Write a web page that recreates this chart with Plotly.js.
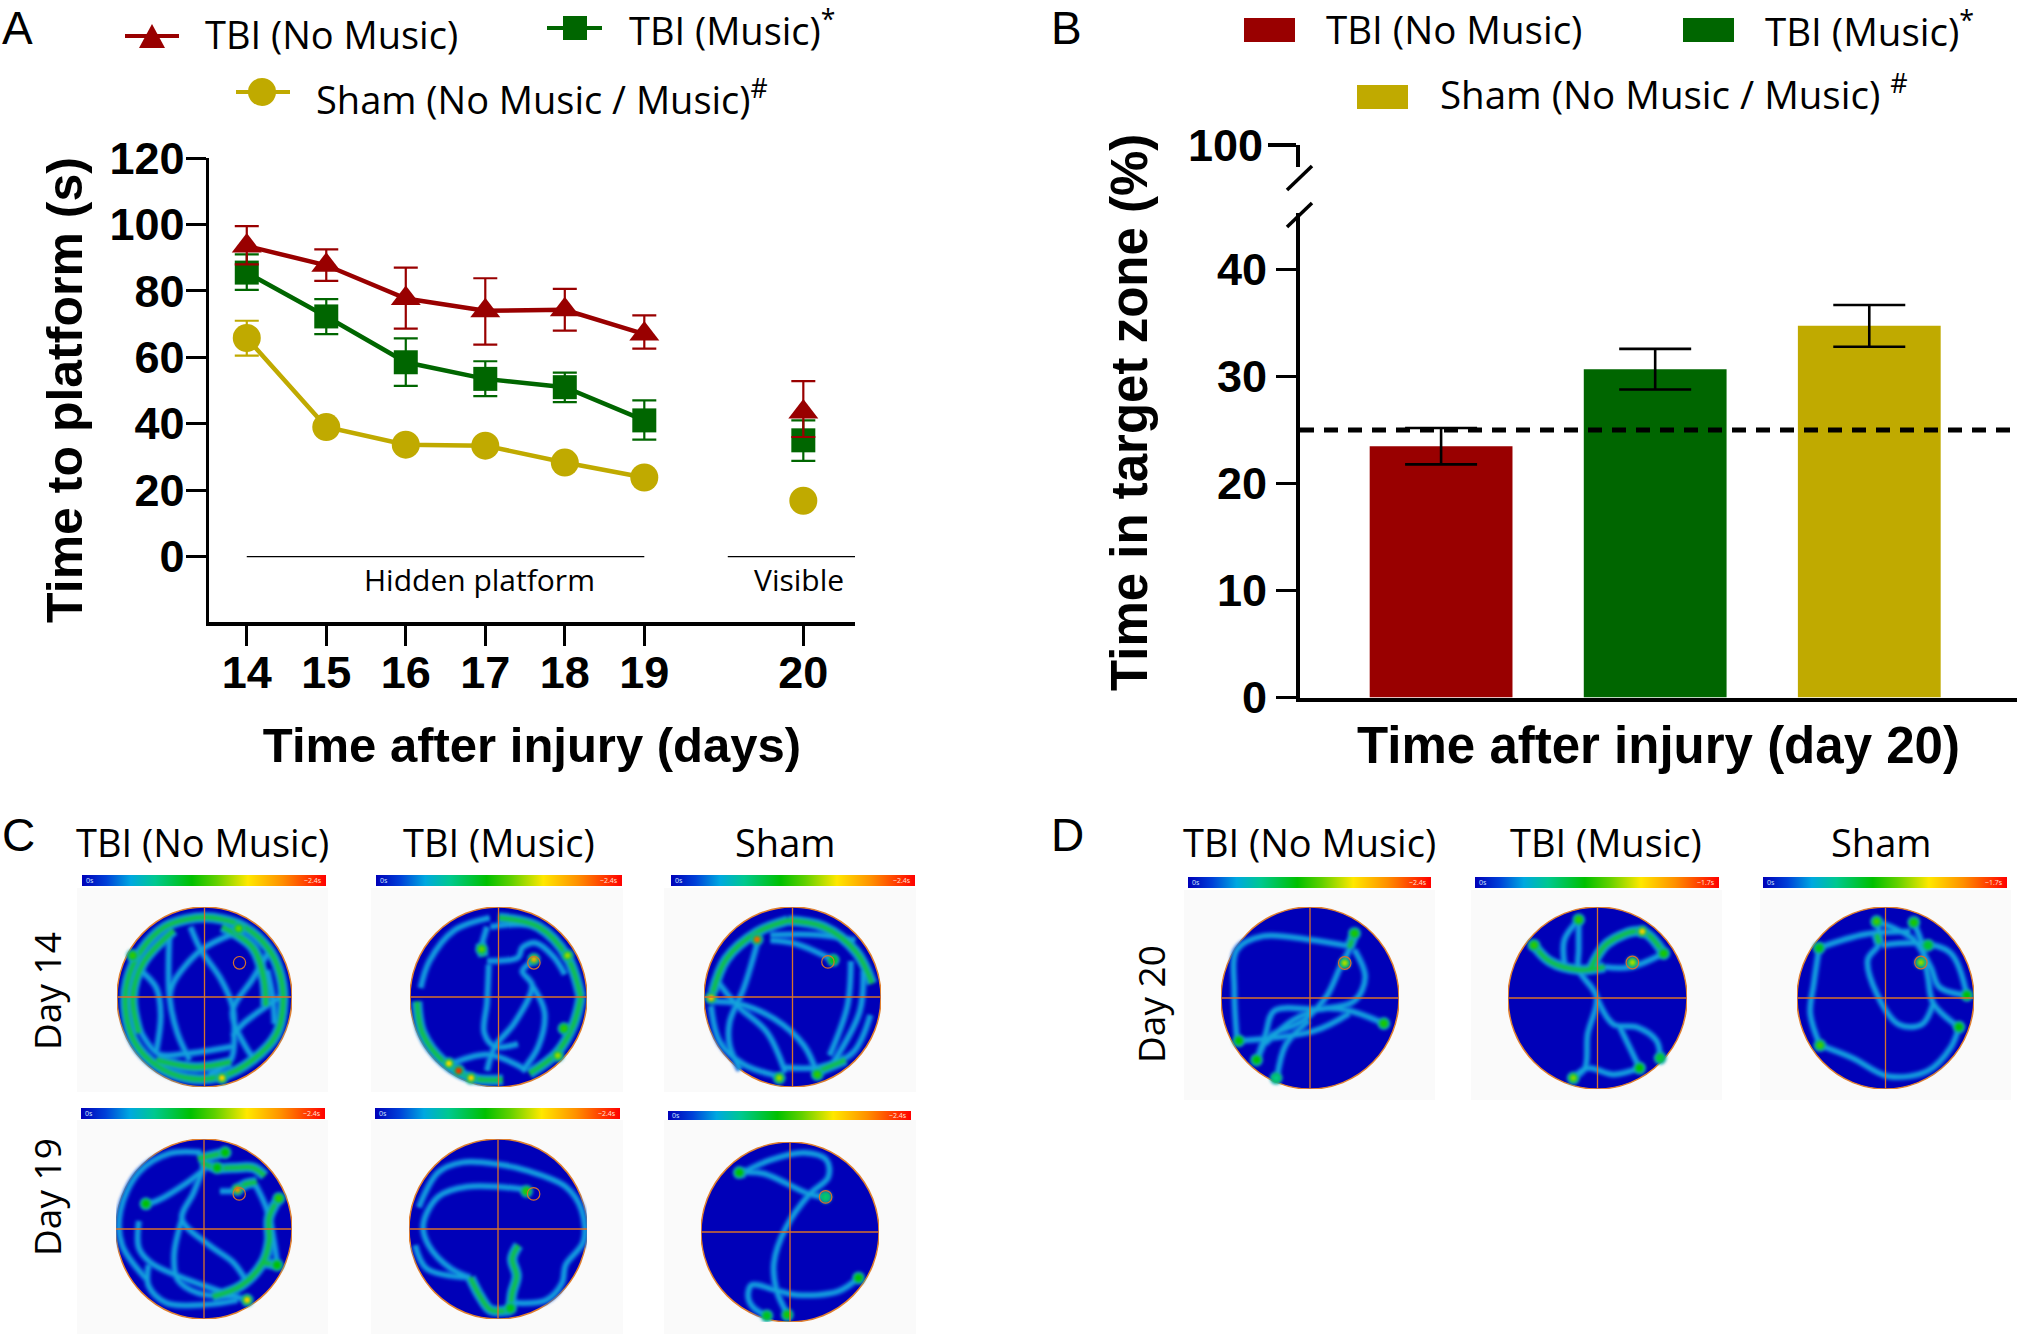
<!DOCTYPE html>
<html>
<head>
<meta charset="utf-8">
<title>Music therapy after TBI - water maze</title>
<script src="https://cdn.plot.ly/plotly-3.0.1.min.js"></script>
<style>
  html, body { margin: 0; padding: 0; background: #fff; }
  #chart { width: 2018px; height: 1336px; }
</style>
</head>
<body>
<div id="chart"></div>
<script>
// Panel A: time to platform. Position 20 stays empty so the line breaks before the visible day
const dayPositions = [14, 15, 16, 17, 18, 19, 20, 21];
const dayTickPositions = [14, 15, 16, 17, 18, 19, 21];
const dayTickLabels = ['14', '15', '16', '17', '18', '19', '20'];
const timeTicks = [0, 20, 40, 60, 80, 100, 120];

const tbiNoMusicTime = [93.5, 87.7, 77.7, 74, 74.3, 67, null, 43.5];
const tbiNoMusicUp = [6, 4.8, 9.3, 9.8, 6.3, 5.6, null, 9.3];
const tbiNoMusicDown = [5.5, 4.7, 9.1, 10.2, 6.3, 4.4, null, 7.5];

const tbiMusicTime = [85.5, 72.3, 58.5, 53.5, 51, 41, null, 35];
const tbiMusicUp = [5.5, 5.2, 7.2, 5.3, 4.4, 6, null, 6];
const tbiMusicDown = [5.2, 5.3, 7.1, 5.2, 4.5, 5.8, null, 6.2];

const shamTime = [65.8, 39, 33.7, 33.4, 28.3, 23.8, null, 16.8];
const shamUp = [5.2, 0, 0, 0, 0, 0, null, 0];
const shamDown = [5.3, 0, 0, 0, 0, 0, null, 0];

const hiddenSpan = [14, 19];
const visibleSpan = [20.05, 21.65];

// Panel B: time in target zone on day 20
const groups = ['TBI (No Music)', 'TBI (Music)', 'Sham (No Music / Music)'];
const zoneTime = [23.5, 30.7, 34.75];
const zoneUp = [1.7, 1.9, 1.95];
const zoneDown = [1.7, 1.9, 1.95];
const chanceLevel = 25;
const zoneTicks = [0, 10, 20, 30, 40];
const zoneUpperTicks = [100];

const RED = '#990000';
const GREEN = '#006600';
const GOLD = '#c0aa00';

// Panels C and D: swim tracks, [x, y, x, y, ...] with the arena as -1..1
const cool14NoMusic = [
  [-0.4, 0.7, -0.4, 0, -0.31, -0.4, -0.17, -0.7],
  [-0.16, 0.78, -0.04, 0.52, 0.18, 0.21, 0.32, -0.1, 0.34, -0.4, 0.3, -0.7, 0.05, -0.86],
  [0.32, 0.7, -0.04, 0.52, -0.35, 0.17, -0.4, 0],
  [-0.76, 0.32, -0.55, 0.1, -0.5, -0.2, -0.55, -0.6],
  [0.72, 0.48, 0.55, 0.2, 0.32, -0.17, 0.5, -0.6, 0.6, -0.72],
  [0.9, 0.02, 0.45, -0.29, 0.32, -0.44],
  [-0.8, -0.25, -0.53, -0.63, -0.22, -0.63, 0.32, -0.55],
  [0.72, 0.3, 0.78, 0, 0.8, -0.3]
];
const warm14NoMusic = [
  [-0.1, 0.88, -0.45, 0.78, -0.72, 0.52, -0.88, 0.18, -0.9, -0.15, -0.8, -0.5, -0.55, -0.76, -0.2, -0.9, 0.2, -0.88, 0.55, -0.7, 0.82, -0.42, 0.9, -0.05, 0.85, 0.3, 0.72, 0.55, 0.45, 0.78, 0.1, 0.88, -0.1, 0.88],
  [-0.35, 0.74, -0.7, 0.38, -0.82, 0, -0.75, -0.4],
  [0.2, 0.78, 0.55, 0.55, 0.68, 0.2, 0.7, -0.1],
  [-0.55, -0.7, -0.1, -0.78, 0.3, -0.72]
];
const spots14NoMusic = [0.2, -0.9, 0.72, 0.39, 0.76, 0.55, -0.82, 0.46, 0.5];

const cool14Music = [
  [-0.13, 0.4, 0.22, 0.44, 0.27, 0.55, 0.42, 0.6, 0.62, 0.45, 0.75, 0.25],
  [-0.11, 0.36, -0.13, -0.06, -0.16, -0.4, -0.04, -0.55, 0.22, -0.52],
  [0.4, 0.4, 0.27, 0.29, 0.38, 0.13, 0.18, -0.29, -0.04, -0.55, -0.13, -0.82],
  [0.38, 0.13, 0.52, -0.17, 0.45, -0.55, 0.27, -0.82],
  [-0.13, 0.78, -0.2, 0.55],
  [-0.09, 0.78, 0.45, 0.78, 0.76, 0.5],
  [-0.58, -0.76, -0.13, -0.64, 0.22, -0.76, 0.31, -0.82],
  [-0.1, 0.88, -0.5, 0.74, -0.78, 0.4, -0.88, 0.1]
];
const warm14Music = [
  [0, 0.88, 0.45, 0.78, 0.78, 0.44, 0.93, 0],
  [-0.92, -0.05, -0.86, -0.4, -0.62, -0.72, -0.3, -0.9, 0.05, -0.92],
  [0.35, -0.85, 0.66, -0.62, 0.85, -0.3, 0.93, 0],
  [-0.2, 0.6, -0.17, 0.45]
];
const spots14Music = [0.4, 0.42, 0.78, -0.45, -0.82, 0.95, -0.31, -0.9, 0.72, -0.56, -0.74, 0.7, 0.74, -0.35, 0.5, 0.67, -0.65, 0.6, 0.78, 0.46, 0.6, -0.19, 0.53, 0.55];

const cool14Sham = [
  [-0.25, 0.63, 0.04, 0.59, 0.46, 0.41],
  [-0.25, 0.69, 0.3, 0.69, 0.71, 0.63],
  [-0.4, 0.59, -0.55, 0.1, -0.71, -0.28, -0.71, -0.54, -0.59, -0.81],
  [-0.88, 0.22, -0.63, -0.09, -0.29, -0.39, -0.08, -0.84],
  [-0.92, -0.05, -0.63, -0.07, -0.21, -0.24, 0.13, -0.54, 0.28, -0.86],
  [0.8, 0.29, 0.76, -0.16, 0.46, -0.73],
  [0.66, 0.4, 0.62, -0.1, 0.42, -0.65],
  [-0.92, -0.1, -0.82, -0.5, -0.55, -0.75, -0.15, -0.88],
  [-0.1, -0.78, 0.3, -0.78, 0.68, -0.62, 0.88, -0.2]
];
const warm14Sham = [
  [-0.05, 0.85, 0.35, 0.78, 0.72, 0.5, 0.9, 0.15],
  [-0.05, 0.85, -0.4, 0.72, -0.75, 0.42, -0.9, 0.05],
  [0.3, -0.82, 0.6, -0.7]
];
const spots14Sham = [-0.4, 0.64, 0.88, -0.92, -0.01, 0.75, -0.15, -0.9, 0.6, 0.28, -0.86, 0.5, 0.46, 0.41, 0.42];

const cool19NoMusic = [
  [-0.03, 0.85, -0.39, 0.84, -0.74, 0.63, -0.95, 0.2, -0.93, -0.18, -0.65, -0.56],
  [-0.7, 0.26, -0.52, 0.32, -0.2, 0.51, 0, 0.66],
  [0.02, 0.74, -0.12, 0.4, -0.25, 0.11, 0.06, -0.18, 0.33, -0.37, 0.47, -0.56],
  [-0.25, 0.11, -0.34, -0.29, -0.3, -0.56, -0.07, -0.71, 0.38, -0.75],
  [-0.74, 0.09, -0.74, -0.21, -0.61, -0.37, -0.3, -0.52, 0.24, -0.71, 0.49, -0.79],
  [-0.63, -0.4, -0.63, -0.63, -0.43, -0.82, 0.02, -0.84, 0.38, -0.79],
  [0.18, 0.42, 0.38, 0.42],
  [0.58, 0.5, 0.72, 0.2, 0.82, -0.3, 0.83, -0.4]
];
const warm19NoMusic = [
  [-0.07, 0.78, 0.24, 0.85],
  [-0.03, 0.74, 0.13, 0.68, 0.33, 0.68, 0.56, 0.68, 0.69, 0.59],
  [0.38, 0.44, 0.48, 0.5, 0.6, 0.52],
  [0.85, 0.34, 0.74, 0.13, 0.74, -0.14, 0.67, -0.37, 0.42, -0.63, 0.1, -0.75],
  [0.65, -0.37, 0.83, -0.4]
];
const spots19NoMusic = [0.49, -0.79, 0.72, 0.38, 0.44, 0.82, 0.85, 0.34, 0.5, 0.24, 0.85, 0.45, 0.15, 0.68, 0.45, -0.66, 0.28, 0.45, 0.83, -0.4, 0.45];

const cool19Music = [
  [0.32, 0.44, -0.35, 0.47, -0.67, 0.36, -0.84, 0.05, -0.78, -0.18, -0.53, -0.44, -0.31, -0.54],
  [-0.89, 0.24, -0.67, 0.63, -0.4, 0.74, 0, 0.72, 0.32, 0.65, 0.76, 0.47, 0.94, 0.21, 0.96, -0.14, 0.76, -0.4, 0.72, -0.6, 0.54, -0.79, 0.14, -0.82],
  [-0.93, -0.18, -0.8, -0.44, -0.31, -0.54]
];
const warm19Music = [
  [-0.31, -0.54, -0.2, -0.75, -0.08, -0.9, 0.14, -0.9],
  [0.23, -0.18, 0.16, -0.33, 0.21, -0.52, 0.16, -0.71, 0.14, -0.9]
];
const spots19Music = [0.32, 0.42, 0.5, 0.14, -0.88, 0.42];

const cool19Sham = [
  [-0.57, 0.66, -0.3, 0.65, 0.22, 0.42, 0.4, 0.39],
  [-0.51, 0.67, -0.22, 0.8, 0.16, 0.88, 0.41, 0.8, 0.43, 0.61, 0.22, 0.42, -0.05, 0.04, -0.18, -0.34, -0.15, -0.65, -0.03, -0.91],
  [0.77, -0.51, 0.54, -0.66, 0.08, -0.7, -0.15, -0.65, -0.43, -0.59, -0.47, -0.72, -0.41, -0.84, -0.26, -0.93]
];
const warm19Sham = [
  [-0.6, 0.66, -0.5, 0.66]
];
const spots19Sham = [-0.57, 0.66, 0.45, 0.77, -0.51, 0.45, -0.03, -0.92, 0.48, -0.26, -0.93, 0.42, 0.4, 0.39, 0.32];

const cool20NoMusic = [
  [0.5, 0.71, 0.44, 0.53, 0.34, 0.34, 0.18, 0.01, -0.08, -0.25, -0.46, -0.43, -0.59, -0.69],
  [0.44, 0.57, 0, 0.64, -0.53, 0.68, -0.82, 0.53, -0.85, 0.08, -0.82, -0.47],
  [0.5, 0.53, 0.62, 0.23, 0.5, -0.03, 0.12, -0.12, -0.4, -0.14, -0.5, -0.4, -0.59, -0.66],
  [0.83, -0.28, 0.44, -0.14, 0.12, -0.12, -0.2, -0.25, -0.5, -0.5],
  [-0.79, -0.47, 0.05, -0.36, 0.44, -0.17],
  [-0.01, -0.25, -0.27, -0.51, -0.37, -0.88]
];
const warm20NoMusic = [
  [0.5, 0.71, 0.44, 0.55]
];
const spots20NoMusic = [0.5, 0.71, 0.48, 0.83, -0.28, 0.48, -0.8, -0.47, 0.45, -0.6, -0.68, 0.45, -0.38, -0.88, 0.3, 0.39, 0.385, 0.62];

const cool20Music = [
  [-0.21, 0.86, -0.37, 0.64, -0.37, 0.38],
  [-0.21, 0.86, -0.21, 0.53, -0.21, 0.31, -0.01, 0.01, -0.11, -0.4, -0.14, -0.77, -0.27, -0.88],
  [-0.01, 0.01, 0.18, -0.29, 0.44, -0.32, 0.66, -0.47, 0.7, -0.66],
  [0.25, -0.32, 0.47, -0.77],
  [-0.27, -0.88, -0.11, -0.77, 0.18, -0.84, 0.47, -0.77],
  [0.08, 0.34, 0.37, 0.34, 0.74, 0.49]
];
const warm20Music = [
  [-0.71, 0.58, -0.53, 0.4, -0.21, 0.31, 0.08, 0.34],
  [-0.08, 0.31, 0.11, 0.6, 0.5, 0.73, 0.74, 0.49]
];
const spots20Music = [-0.21, 0.86, 0.5, -0.71, 0.58, 0.5, 0.5, 0.73, 0.72, 0.74, 0.49, 0.48, 0.47, -0.77, 0.45, -0.27, -0.88, 0.58, 0.7, -0.66, 0.38, 0.39, 0.39, 0.62];

const cool20Sham = [
  [-0.75, 0.55, -0.23, 0.7, 0.28, 0.73],
  [-0.74, -0.52, -0.85, -0.17, -0.81, 0.16, -0.75, 0.55],
  [-0.74, -0.52, -0.37, -0.66, 0.03, -0.86, 0.48, -0.8, 0.74, -0.54, 0.83, -0.32],
  [0.83, -0.32, 0.54, -0.06, 0.48, 0.23, 0.41, 0.6, 0.32, 0.83],
  [-0.1, 0.84, -0.07, 0.6, -0.2, 0.42, -0.1, 0.05, 0.15, -0.29, 0.41, -0.29, 0.54, -0.06],
  [-0.1, 0.84, 0.09, 0.77, 0.32, 0.64, 0.51, 0.34, 0.61, 0.12, 0.92, 0.03],
  [-0.04, 0.58, 0.41, 0.6, 0.74, 0.49, 0.92, 0.03]
];
const warm20Sham = [
  [-0.1, 0.7, -0.07, 0.6]
];
const spots20Sham = [-0.1, 0.84, 0.52, 0.32, 0.83, 0.48, -0.74, -0.52, 0.52, 0.83, -0.32, 0.45, 0.92, 0.03, 0.45, -0.75, 0.55, 0.42, 0.48, 0.58, 0.4, 0.4, 0.39, 0.6];

const heatScale = [
  [0, '#0000b8'], [0.1, '#0040d8'], [0.2, '#00a8e0'], [0.3, '#00c890'], [0.45, '#00c000'],
  [0.55, '#60d000'], [0.68, '#ffe800'], [0.82, '#ff9000'], [1, '#ff0000']
];

// Page layout in pixels of the 2018x1336 figure
const W = 2018;
const H = 1336;
const X = px => px / W;
const Y = py => 1 - py / H;

// box = gray card, disc = arena, bar = heat scale strip, all [x0, x1, y0, y1]
const heatPanels = [
  { cool: cool14NoMusic, warm: warm14NoMusic, spots: spots14NoMusic, box: [77, 328, 888, 1092], disc: [117, 292, 907, 1087], bar: [82, 326, 875, 886], target: [0.4, 0.38], maxLabel: '~2.4s' },
  { cool: cool14Music, warm: warm14Music, spots: spots14Music, box: [371, 623, 888, 1092], disc: [410, 587, 907, 1087], bar: [376, 622, 875, 886], target: [0.4, 0.38], maxLabel: '~2.4s' },
  { cool: cool14Sham, warm: warm14Sham, spots: spots14Sham, box: [664, 916, 888, 1092], disc: [704, 881, 907, 1087], bar: [671, 915, 875, 886], target: [0.4, 0.39], maxLabel: '~2.4s' },
  { cool: cool19NoMusic, warm: warm19NoMusic, spots: spots19NoMusic, box: [77, 328, 1120, 1334], disc: [116, 292, 1139, 1319], bar: [81, 325, 1108, 1119], target: [0.4, 0.39], maxLabel: '~2.4s' },
  { cool: cool19Music, warm: warm19Music, spots: spots19Music, box: [371, 623, 1120, 1334], disc: [409, 587, 1139, 1319], bar: [375, 620, 1108, 1119], target: [0.4, 0.39], maxLabel: '~2.4s' },
  { cool: cool19Sham, warm: warm19Sham, spots: spots19Sham, box: [664, 916, 1120, 1334], disc: [701, 879, 1142, 1322], bar: [668, 911, 1111, 1120], target: [0.4, 0.39], maxLabel: '~2.4s' },
  { cool: cool20NoMusic, warm: warm20NoMusic, spots: spots20NoMusic, box: [1184, 1435, 890, 1100], disc: [1221, 1399, 907, 1089], bar: [1188, 1431, 877, 888], target: [0.39, 0.385], maxLabel: '~2.4s' },
  { cool: cool20Music, warm: warm20Music, spots: spots20Music, box: [1471, 1722, 890, 1100], disc: [1508, 1687, 907, 1089], bar: [1475, 1719, 877, 888], target: [0.39, 0.39], maxLabel: '~1.7s' },
  { cool: cool20Sham, warm: warm20Sham, spots: spots20Sham, box: [1760, 2011, 890, 1100], disc: [1797, 1974, 907, 1089], bar: [1763, 2007, 877, 888], target: [0.4, 0.39], maxLabel: '~1.7s' }
];

const TICK_FONT = { family: 'Liberation Sans', size: 45, color: '#000', weight: 700 };
const titleFont = size => ({ family: 'Liberation Sans', size: size, color: '#000', weight: 700 });
const LABEL_FAMILY = 'Open Sans';

const traces = [];
const annotations = [];
const shapes = [];

function note(text, px, py, size, extra) {
  annotations.push(Object.assign({
    text: text, xref: 'paper', yref: 'paper', x: X(px), y: Y(py), showarrow: false,
    xanchor: 'left', yanchor: 'middle', font: { family: LABEL_FAMILY, size: size, color: '#000' }
  }, extra || {}));
}

function linePaper(x0, y0, x1, y1, color, width) {
  shapes.push({ type: 'line', xref: 'paper', yref: 'paper', x0: X(x0), y0: Y(y0), x1: X(x1), y1: Y(y1), line: { color: color, width: width } });
}

function seriesTrace(name, values, up, down, color, symbol, size) {
  return {
    type: 'scatter', mode: 'lines+markers', name: name, x: dayPositions, y: values, xaxis: 'x', yaxis: 'y',
    connectgaps: false, showlegend: false,
    line: { color: color, width: 4.5 },
    marker: { color: color, symbol: symbol, size: size },
    error_y: { type: 'data', symmetric: false, array: up, arrayminus: down, color: color, thickness: 2.2, width: 12 }
  };
}

traces.push({ type: 'scatter', mode: 'lines', x: hiddenSpan, y: [0, 0], xaxis: 'x', yaxis: 'y', line: { color: '#000', width: 1.2 }, showlegend: false, cliponaxis: false });
traces.push({ type: 'scatter', mode: 'lines', x: visibleSpan, y: [0, 0], xaxis: 'x', yaxis: 'y', line: { color: '#000', width: 1.2 }, showlegend: false, cliponaxis: false });
traces.push(seriesTrace('Sham (No Music / Music)', shamTime, shamUp, shamDown, GOLD, 'circle', 28));
traces.push(seriesTrace('TBI (Music)', tbiMusicTime, tbiMusicUp, tbiMusicDown, GREEN, 'square', 24));
traces.push(seriesTrace('TBI (No Music)', tbiNoMusicTime, tbiNoMusicUp, tbiNoMusicDown, RED, 'triangle-up', 26));

traces.push({
  type: 'bar', x: groups, y: zoneTime, xaxis: 'x2', yaxis: 'y2', showlegend: false,
  marker: { color: [RED, GREEN, GOLD] }, width: 0.667,
  error_y: { type: 'data', symmetric: false, array: zoneUp, arrayminus: zoneDown, color: '#000', thickness: 2.6, width: 36 }
});
// Empty trace so the upper piece of the broken axis gets drawn
traces.push({ type: 'scatter', mode: 'none', x: [groups[0]], y: zoneUpperTicks, xaxis: 'x2', yaxis: 'y3', showlegend: false, hoverinfo: 'skip' });

const layout = {
  width: W, height: H, showlegend: false,
  paper_bgcolor: '#fff', plot_bgcolor: 'rgba(0,0,0,0)',
  margin: { l: 0, r: 0, t: 0, b: 0, autoexpand: false },
  xaxis: {
    domain: [X(209), X(855)], range: [13.525, 21.65], anchor: 'y', showgrid: false, zeroline: false,
    showline: true, linecolor: '#000', linewidth: 3.5, ticks: 'outside', ticklen: 20, tickwidth: 3, tickcolor: '#000',
    tickmode: 'array', tickvals: dayTickPositions, ticktext: dayTickLabels, tickfont: TICK_FONT, ticklabelstandoff: -12,
    title: { text: 'Time after injury (days)', font: titleFont(49), standoff: 32 }
  },
  yaxis: {
    domain: [Y(622), Y(158)], range: [-19.7, 120], anchor: 'x', showgrid: false, zeroline: false,
    showline: true, linecolor: '#000', linewidth: 3.5, ticks: 'outside', ticklen: 20, tickwidth: 3, tickcolor: '#000',
    tickmode: 'array', tickvals: timeTicks, tickfont: TICK_FONT, ticklabelstandoff: -8,
    title: { text: 'Time to platform (s)', font: titleFont(50), standoff: 12 }
  },
  xaxis2: {
    domain: [X(1300), X(2017)], range: [-0.659, 2.69], anchor: 'y2', type: 'category', showgrid: false, zeroline: false,
    showline: true, linecolor: '#000', linewidth: 4, ticks: '', showticklabels: false,
    title: { text: 'Time after injury (day 20)', font: titleFont(51), standoff: 28 }
  },
  yaxis2: {
    domain: [Y(697.5), Y(213)], range: [0, 45.3], anchor: 'x2', showgrid: false, zeroline: false,
    showline: true, linecolor: '#000', linewidth: 4, ticks: 'outside', ticklen: 20, tickwidth: 3.5, tickcolor: '#000',
    tickmode: 'array', tickvals: zoneTicks, tickfont: TICK_FONT
  },
  yaxis3: {
    domain: [Y(167), Y(145)], range: [95, 100], anchor: 'x2', showgrid: false, zeroline: false,
    showline: true, linecolor: '#000', linewidth: 4, ticks: 'outside', ticklen: 28, tickwidth: 3.5, tickcolor: '#000',
    tickmode: 'array', tickvals: zoneUpperTicks, tickfont: TICK_FONT, ticklabelstandoff: -4
  }
};

// Chance level of the target zone
shapes.push({ type: 'line', xref: 'x2 domain', yref: 'y2', x0: 0, x1: 1, y0: chanceLevel, y1: chanceLevel, layer: 'above', line: { color: '#000', width: 5, dash: '14px,10px' } });
// Axis break marks on panel B
linePaper(1312, 166, 1287, 190, '#000', 3.5);
linePaper(1312, 203, 1287, 227, '#000', 3.5);

function flatten(paths) {
  const xs = [];
  const ys = [];
  paths.forEach(p => {
    for (let i = 0; i < p.length; i += 2) {
      xs.push(p[i]);
      ys.push(p[i + 1]);
    }
    xs.push(null);
    ys.push(null);
  });
  return { x: xs, y: ys };
}

function trackLayer(xa, ya, pts, color, width) {
  traces.push({
    type: 'scatter', mode: 'lines', x: pts.x, y: pts.y, xaxis: xa, yaxis: ya, showlegend: false, hoverinfo: 'skip',
    connectgaps: false, line: { color: color, width: width, shape: 'spline', smoothing: 1 }
  });
}

heatPanels.forEach((p, i) => {
  const n = i + 3;
  const xa = 'x' + n;
  const ya = 'y' + (n + 1);
  layout['xaxis' + n] = { domain: [X(p.disc[0]), X(p.disc[1])], range: [-1, 1], anchor: ya, visible: false, fixedrange: true };
  layout['yaxis' + (n + 1)] = { domain: [Y(p.disc[3]), Y(p.disc[2])], range: [-1, 1], anchor: xa, visible: false, fixedrange: true };

  shapes.push({ type: 'rect', layer: 'below', xref: 'paper', yref: 'paper', x0: X(p.box[0]), x1: X(p.box[1]), y0: Y(p.box[3]), y1: Y(p.box[2]), fillcolor: '#fafafa', line: { width: 0 } });
  shapes.push({ type: 'circle', layer: 'below', xref: xa, yref: ya, x0: -1, x1: 1, y0: -1, y1: 1, fillcolor: '#0000b8', line: { color: '#e08030', width: 1.5 } });
  shapes.push({ type: 'line', layer: 'above', xref: xa, yref: ya, x0: -1, x1: 1, y0: 0, y1: 0, line: { color: '#d8702a', width: 1.3 } });
  shapes.push({ type: 'line', layer: 'above', xref: xa, yref: ya, x0: 0, x1: 0, y0: -1, y1: 1, line: { color: '#d8702a', width: 1.3 } });
  shapes.push({
    type: 'circle', layer: 'above', xref: xa, yref: ya, line: { color: '#d8702a', width: 1.2 },
    x0: p.target[0] - 0.07, x1: p.target[0] + 0.07, y0: p.target[1] - 0.07, y1: p.target[1] + 0.07
  });

  // Stacked widths, blurred after the plot is drawn, stand in for the original heat map
  const cool = flatten(p.cool);
  const warm = flatten(p.warm);
  trackLayer(xa, ya, cool, '#0a56da', 7.5);
  trackLayer(xa, ya, warm, '#0c80dc', 11);
  trackLayer(xa, ya, cool, '#14a4dc', 3.5);
  trackLayer(xa, ya, warm, '#10aeb0', 7);
  trackLayer(xa, ya, warm, '#10c040', 3.5);

  const sx = [];
  const sy = [];
  const sv = [];
  for (let k = 0; k < p.spots.length; k += 3) {
    sx.push(p.spots[k]);
    sy.push(p.spots[k + 1]);
    sv.push(p.spots[k + 2]);
  }
  traces.push({ type: 'scatter', mode: 'markers', x: sx, y: sy, xaxis: xa, yaxis: ya, showlegend: false, hoverinfo: 'skip', marker: { color: '#10a8c0', size: 13 } });
  traces.push({ type: 'scatter', mode: 'markers', x: sx, y: sy, xaxis: xa, yaxis: ya, showlegend: false, hoverinfo: 'skip', marker: { color: '#00c030', size: 9 } });
  traces.push({
    type: 'scatter', mode: 'markers', x: sx, y: sy, xaxis: xa, yaxis: ya, showlegend: false,
    marker: {
      color: sv, size: 6, cmin: 0, cmax: 1, colorscale: heatScale, showscale: true,
      colorbar: {
        orientation: 'h', x: X((p.bar[0] + p.bar[1]) / 2), xanchor: 'center', y: Y(p.bar[3]), yanchor: 'bottom',
        len: p.bar[1] - p.bar[0], lenmode: 'pixels', thickness: p.bar[3] - p.bar[2], thicknessmode: 'pixels',
        outlinewidth: 0, ticks: '', showticklabels: false, xpad: 0, ypad: 0
      }
    }
  });

  note('0s', p.bar[0] + 2, (p.bar[2] + p.bar[3]) / 2, 7, { font: { family: LABEL_FAMILY, size: 7, color: '#cfe6ff' } });
  note(p.maxLabel, p.bar[1] - 2, (p.bar[2] + p.bar[3]) / 2, 7, { xanchor: 'right', font: { family: LABEL_FAMILY, size: 7, color: '#ffe6d8' } });
});

// Panel letters
const LETTER_FONT = { family: 'Liberation Sans', size: 46, color: '#000' };
note('A', 0, 0, 46, { yanchor: 'top', font: LETTER_FONT });
note('B', 1049, 0, 46, { yanchor: 'top', font: LETTER_FONT });
note('C', 0, 835, 46, { font: LETTER_FONT });
note('D', 1049, 835, 46, { font: LETTER_FONT });

// Hand-built legends: the keys are bigger than a Plotly legend allows
function lineKey(x0, x1, cy, color) { linePaper(x0, cy, x1, cy, color, 4); }
function boxKey(x0, x1, y0, y1, color) {
  shapes.push({ type: 'rect', xref: 'paper', yref: 'paper', x0: X(x0), x1: X(x1), y0: Y(y1), y1: Y(y0), fillcolor: color, line: { width: 0 } });
}
const LEGEND_A = 38;
const LEGEND_B = 38.5;
lineKey(125, 179, 36, RED);
shapes.push({ type: 'path', xref: 'paper', yref: 'paper', fillcolor: RED, line: { width: 0 }, path: `M${X(139)},${Y(48)} L${X(165)},${Y(48)} L${X(152)},${Y(24)} Z` });
note('TBI (No Music)', 203, 34, LEGEND_A);
lineKey(547, 602, 28, GREEN);
boxKey(563, 587, 16, 40, GREEN);
note('TBI (Music)<sup>*</sup>', 627, 29, LEGEND_A);
lineKey(236, 290, 92, GOLD);
shapes.push({ type: 'circle', xref: 'paper', yref: 'paper', fillcolor: GOLD, line: { width: 0 }, x0: X(248), x1: X(276), y0: Y(106), y1: Y(78) });
note('Sham (No Music / Music)<sup>#</sup>', 314, 97, LEGEND_A);

boxKey(1244, 1295, 18, 42, RED);
note('TBI (No Music)', 1324, 29, LEGEND_B);
boxKey(1683, 1734, 18, 42, GREEN);
note('TBI (Music)<sup>*</sup>', 1763, 29, LEGEND_B);
boxKey(1357, 1408, 85, 109, GOLD);
note('Sham (No Music / Music) <sup>#</sup>', 1438, 92, LEGEND_B);

// Panel A phase labels
note('Hidden platform', 479, 579, 30, { xanchor: 'center' });
note('Visible', 799, 579, 30, { xanchor: 'center' });

// Panel B y title sits across both axis pieces, so it cannot be an axis title
note('<b>Time in target zone (%)</b>', 1129, 413, 51, {
  xanchor: 'center', textangle: -90,
  font: { family: 'Liberation Sans', size: 51, color: '#000' }
});

// Heat map headings
const HEAD_SIZE = 38;
[['TBI (No Music)', 202], ['TBI (Music)', 499], ['Sham', 785], ['TBI (No Music)', 1309], ['TBI (Music)', 1606], ['Sham', 1881]].forEach(h => {
  note(h[0], h[1], 842, HEAD_SIZE, { xanchor: 'center' });
});
[['Day 14', 46, 991], ['Day 19', 46, 1197], ['Day 20', 1150, 1004]].forEach(d => {
  note(d[0], d[1], d[2], HEAD_SIZE - 1, { xanchor: 'center', textangle: -90 });
});

layout.annotations = annotations;
layout.shapes = shapes;

Plotly.newPlot('chart', traces, layout, { staticPlot: true, displayModeBar: false }).then(() => {
  // Soften the swim tracks so they read like the original density maps
  heatPanels.forEach((p, i) => {
    const n = i + 3;
    const layer = document.querySelector('.subplot.x' + n + 'y' + (n + 1) + ' .scatterlayer');
    if (layer) layer.style.filter = 'blur(1.6px)';
  });
});
</script>
</body>
</html>
